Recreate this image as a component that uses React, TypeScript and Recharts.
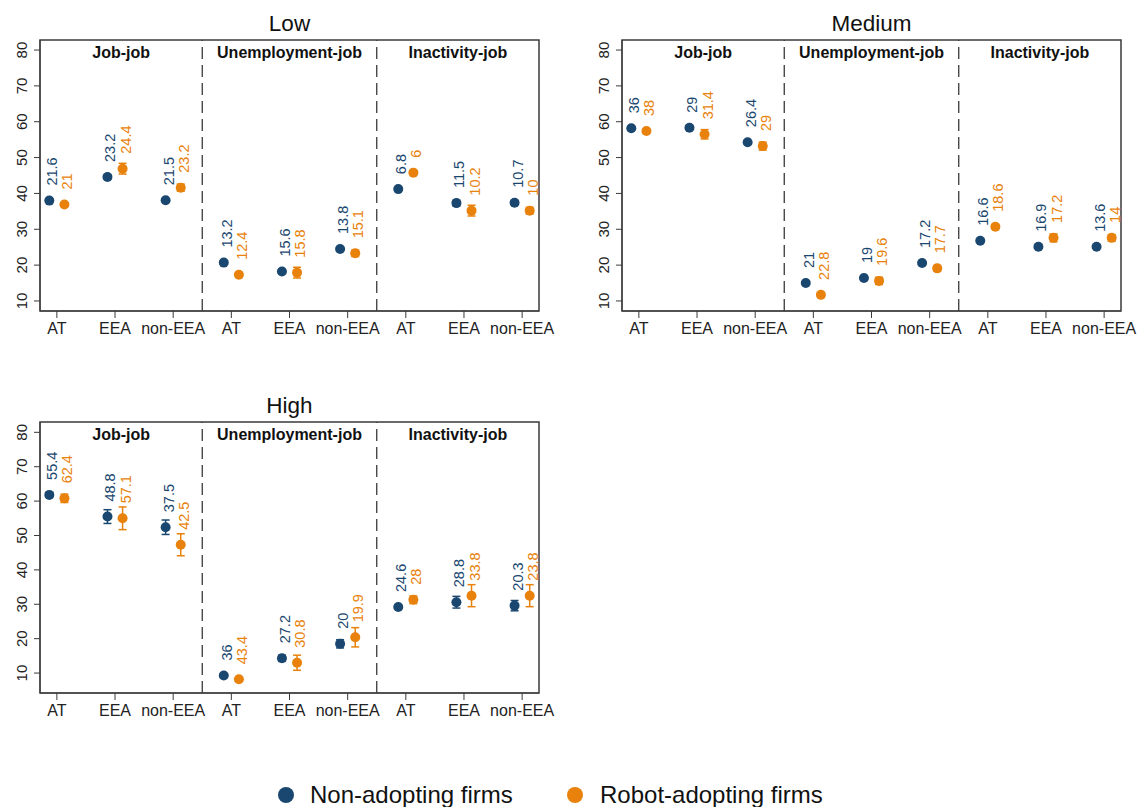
import React from 'react';
import { ScatterChart, Scatter, XAxis, YAxis, ErrorBar, ReferenceLine, ReferenceArea } from 'recharts';

const categories = ['AT', 'EEA', 'non-EEA', 'AT', 'EEA', 'non-EEA', 'AT', 'EEA', 'non-EEA'];
const groups = ['Job-job', 'Unemployment-job', 'Inactivity-job'];
const yTicks = [10, 20, 30, 40, 50, 60, 70, 80];

// Low
const lowNon = [38.0, 44.6, 38.1, 20.7, 18.2, 24.5, 41.2, 37.3, 37.4];
const lowNonErr = [0.3, 0.6, 0.3, 0.3, 0.4, 0.4, 0.3, 0.8, 0.6];
const lowNonLbl = ['21.6', '23.2', '21.5', '13.2', '15.6', '13.8', '6.8', '11.5', '10.7'];
const lowRob = [36.9, 46.9, 41.6, 17.3, 17.9, 23.3, 45.8, 35.2, 35.2];
const lowRobErr = [0.5, 1.5, 1.0, 0.4, 1.5, 0.9, 0.5, 1.5, 0.9];
const lowRobLbl = ['21', '24.4', '23.2', '12.4', '15.8', '15.1', '6', '10.2', '10'];

// Medium
const medNon = [58.2, 58.3, 54.3, 15.0, 16.4, 20.6, 26.8, 25.1, 25.1];
const medNonErr = [0.3, 0.5, 0.4, 0.3, 0.4, 0.4, 0.3, 0.4, 0.4];
const medNonLbl = ['36', '29', '26.4', '21', '19', '17.2', '16.6', '16.9', '13.6'];
const medRob = [57.4, 56.5, 53.2, 11.7, 15.6, 19.1, 30.7, 27.6, 27.6];
const medRobErr = [0.5, 1.3, 1.1, 0.4, 1.0, 0.8, 0.5, 1.1, 0.9];
const medRobLbl = ['38', '31.4', '29', '22.8', '19.6', '17.7', '18.6', '17.2', '14'];

// High
const highNon = [61.8, 55.5, 52.4, 9.3, 14.3, 18.5, 29.2, 30.6, 29.6];
const highNonErr = [0.5, 2.0, 2.1, 0.5, 0.9, 1.2, 0.5, 1.7, 1.5];
const highNonLbl = ['55.4', '48.8', '37.5', '36', '27.2', '20', '24.6', '28.8', '20.3'];
const highRob = [60.8, 55.0, 47.3, 8.2, 13.0, 20.4, 31.3, 32.5, 32.5];
const highRobErr = [1.2, 3.3, 3.2, 0.5, 2.2, 2.8, 1.1, 3.2, 3.2];
const highRobLbl = ['62.4', '57.1', '42.5', '43.4', '30.8', '19.9', '28', '33.8', '23.8'];

const BLUE = '#1a476f';
const ORANGE = '#e8820c';
const FRAME = '#3a3a3a';
const FONT = '"Liberation Sans", Arial, Helvetica, sans-serif';

const X_DOMAIN: [number, number] = [0.71, 9.29];
const OFFSET = 0.13;

type Panel = {
  title: string;
  left: number;
  top: number;
  yDomain: [number, number];
  non: number[];
  nonErr: number[];
  nonLbl: string[];
  rob: number[];
  robErr: number[];
  robLbl: string[];
};

const panels: Panel[] = [
  { title: 'Low', left: 0, top: 0, yDomain: [7.2, 82.8], non: lowNon, nonErr: lowNonErr, nonLbl: lowNonLbl, rob: lowRob, robErr: lowRobErr, robLbl: lowRobLbl },
  { title: 'Medium', left: 582, top: 0, yDomain: [7.2, 82.8], non: medNon, nonErr: medNonErr, nonLbl: medNonLbl, rob: medRob, robErr: medRobErr, robLbl: medRobLbl },
  { title: 'High', left: 0, top: 382, yDomain: [4.2, 83.0], non: highNon, nonErr: highNonErr, nonLbl: highNonLbl, rob: highRob, robErr: highRobErr, robLbl: highRobLbl },
];

const CHART_W = 560;
const CHART_H = 341;
const M = { top: 40, right: 21, bottom: 0, left: 10 };

const makeDot = (color: string) => (props: any) => {
  const { cx, cy, payload } = props;
  if (cx == null || cy == null) return <g />;
  const tx = cx + 3;
  const ty = cy - 15;
  return (
    <g>
      <circle cx={cx} cy={cy} r={5} fill={color} />
      <text
        x={tx}
        y={ty}
        transform={`rotate(-90 ${tx} ${ty})`}
        fill={color}
        fontSize={14.5}
        textAnchor="start"
        dominantBaseline="central"
      >
        {payload.label}
      </text>
    </g>
  );
};

const YTick = (props: any) => {
  const { x, y, payload } = props;
  const tx = x - 5;
  return (
    <text x={tx} y={y} transform={`rotate(-90 ${tx} ${y})`} textAnchor="middle" fontSize={15} fill="#222">
      {payload.value}
    </text>
  );
};

function PanelChart({ p }: { p: Panel }) {
  const nonData = categories.map((c, i) => ({ x: i + 1 - OFFSET, y: p.non[i], err: p.nonErr[i], label: p.nonLbl[i], cat: c }));
  const robData = categories.map((c, i) => ({ x: i + 1 + OFFSET, y: p.rob[i], err: p.robErr[i], label: p.robLbl[i], cat: c }));
  const bounds = [X_DOMAIN[0], 3.5, 6.5, X_DOMAIN[1]];
  return (
    <div style={{ position: 'absolute', left: p.left, top: p.top, width: CHART_W, height: CHART_H }}>
      <div
        style={{
          position: 'absolute',
          left: M.left + 30,
          width: CHART_W - M.left - 30 - M.right,
          top: M.top - 27,
          textAlign: 'center',
          fontSize: 22.5,
          lineHeight: '22px',
          color: '#111',
        }}
      >
        {p.title}
      </div>
      <ScatterChart width={CHART_W} height={CHART_H} margin={M}>
        <XAxis
          type="number"
          dataKey="x"
          domain={X_DOMAIN}
          ticks={[1, 2, 3, 4, 5, 6, 7, 8, 9]}
          interval={0}
          allowDataOverflow
          tickFormatter={(v: number) => categories[Math.round(v) - 1]}
          height={30}
          tickSize={7}
          tickMargin={5}
          stroke={FRAME}
          tick={{ fontSize: 16, fill: '#222' }}
        />
        <YAxis
          type="number"
          dataKey="y"
          domain={p.yDomain}
          ticks={yTicks}
          interval={0}
          allowDataOverflow
          width={30}
          tickSize={6}
          stroke={FRAME}
          tick={<YTick />}
        />
        <ReferenceArea
          x1={X_DOMAIN[0]}
          x2={X_DOMAIN[1]}
          y1={p.yDomain[0]}
          y2={p.yDomain[1]}
          fill="none"
          fillOpacity={0}
          stroke={FRAME}
          strokeWidth={1.5}
        />
        {groups.map((g, i) => (
          <ReferenceArea
            key={g}
            x1={bounds[i]}
            x2={bounds[i + 1]}
            y1={p.yDomain[0]}
            y2={p.yDomain[1]}
            fill="none"
            fillOpacity={0}
            stroke="none"
            label={{ value: g, position: 'insideTop', offset: 7, fontSize: 16, fontWeight: 'bold', fill: '#111' }}
          />
        ))}
        <ReferenceLine x={3.5} stroke={FRAME} strokeWidth={1.3} strokeDasharray="12 6" />
        <ReferenceLine x={6.5} stroke={FRAME} strokeWidth={1.3} strokeDasharray="12 6" />
        <Scatter data={nonData} fill={BLUE} shape={makeDot(BLUE)} isAnimationActive={false}>
          <ErrorBar dataKey="err" direction="y" width={4} stroke={BLUE} strokeWidth={1.5} />
        </Scatter>
        <Scatter data={robData} fill={ORANGE} shape={makeDot(ORANGE)} isAnimationActive={false}>
          <ErrorBar dataKey="err" direction="y" width={4} stroke={ORANGE} strokeWidth={1.5} />
        </Scatter>
      </ScatterChart>
    </div>
  );
}

export default function App() {
  return (
    <div style={{ position: 'absolute', left: 0, top: 0, width: 1145, height: 807, background: '#fff', fontFamily: FONT }}>
      {panels.map((p) => (
        <PanelChart key={p.title} p={p} />
      ))}
      <div style={{ position: 'absolute', left: 278, top: 787, width: 16, height: 16, borderRadius: '50%', background: BLUE }} />
      <div style={{ position: 'absolute', left: 310, top: 783, fontSize: 24, lineHeight: '24px', color: '#111' }}>
        Non-adopting firms
      </div>
      <div style={{ position: 'absolute', left: 567, top: 787, width: 16, height: 16, borderRadius: '50%', background: ORANGE }} />
      <div style={{ position: 'absolute', left: 600, top: 783, fontSize: 24, lineHeight: '24px', color: '#111' }}>
        Robot-adopting firms
      </div>
    </div>
  );
}
